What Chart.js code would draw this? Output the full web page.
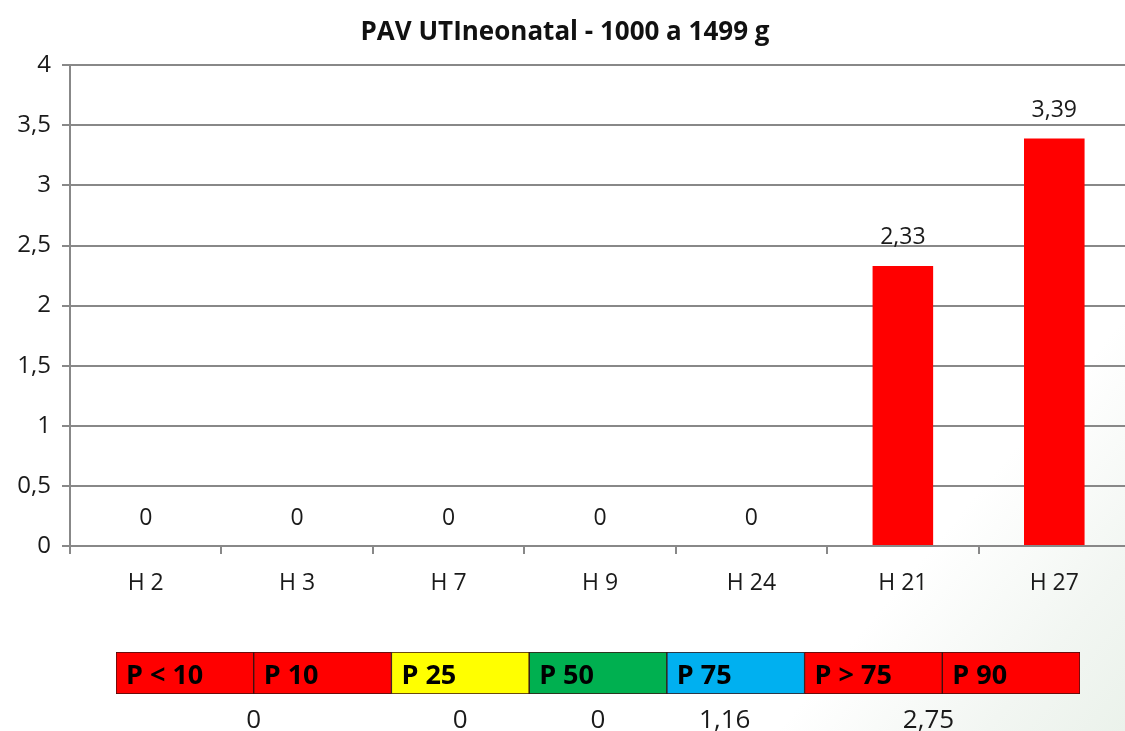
<!DOCTYPE html>
<html>
<head>
<meta charset="utf-8">
<script src="https://cdn.jsdelivr.net/npm/chart.js@4"></script>
<style>
  html, body { margin: 0; padding: 0; }
  body {
    width: 1125px; height: 731px; overflow: hidden; position: relative;
    background: linear-gradient(130deg, #ffffff 80%, #f2f6f2 92%, #ebf2eb 100%);
  }
  #wrapGrafico { position: absolute; left: 0; top: 0; width: 1130px; height: 610px; }
  #wrapFaixa { position: absolute; left: 0; top: 640px; width: 1125px; height: 91px; }
</style>
</head>
<body>
<div id="wrapGrafico"><canvas id="graficoPav"></canvas></div>
<div id="wrapFaixa"><canvas id="faixaPercentil"></canvas></div>
<script>
// datos del grafico
const categorias = ['H 2', 'H 3', 'H 7', 'H 9', 'H 24', 'H 21', 'H 27'];
const valores = [0, 0, 0, 0, 0, 2.33, 3.39];
const ticksY = [0, 0.5, 1, 1.5, 2, 2.5, 3, 3.5, 4];

// faixa de percentis
const percentis = ['P < 10', 'P 10', 'P 25', 'P 50', 'P 75', 'P > 75', 'P 90'];
const coresPercentis = ['#ff0000', '#ff0000', '#ffff00', '#00b050', '#00b0f0', '#ff0000', '#ff0000'];
const valoresPercentis = ['0', '0', '0', '1,16', '2,75'];
const posValoresPercentis = [1, 2.5, 3.5, 4.42, 5.9];

const fmt = v => String(v).replace('.', ',');
const fonteBase = "'Open Sans', 'Noto Sans', sans-serif";

const rotulosBarras = {
    id: 'rotulosBarras',
    afterDatasetsDraw(chart) {
        const ctx = chart.ctx;
        const meta = chart.getDatasetMeta(0);
        ctx.save();
        ctx.font = '23px ' + fonteBase;
        ctx.fillStyle = '#1a1a1a';
        ctx.textAlign = 'center';
        ctx.textBaseline = 'middle';
        meta.data.forEach((bar, i) => {
            ctx.fillText(fmt(valores[i]), bar.x, bar.y - 28);
        });
        ctx.restore();
    }
};

const ctx = document.getElementById('graficoPav').getContext('2d');
const graficoPav = new Chart(ctx, {
    type: 'bar',
    data: {
        labels: categorias,
        datasets: [{
            data: valores,
            backgroundColor: '#ff0000',
            borderWidth: 0,
            barPercentage: 0.4,
            categoryPercentage: 1
        }]
    },
    options: {
        responsive: true,
        maintainAspectRatio: false,
        animation: false,
        layout: { padding: 0 },
        scales: {
            y: {
                min: 0,
                max: 4,
                afterBuildTicks(scale) { scale.ticks = ticksY.map(v => ({ value: v })); },
                afterFit(scale) { scale.width = 70; },
                ticks: {
                    color: '#1a1a1a',
                    font: { size: 24, family: fonteBase },
                    padding: 11,
                    callback: v => fmt(v)
                },
                grid: { color: '#888888', lineWidth: 2, tickLength: 8 },
                border: { color: '#888888', width: 2 }
            },
            x: {
                afterFit(scale) { scale.height = 64; },
                ticks: {
                    color: '#1a1a1a',
                    font: { size: 23, family: fonteBase },
                    padding: 16
                },
                grid: { drawOnChartArea: false, color: '#888888', lineWidth: 2, tickLength: 8 },
                border: { color: '#888888', width: 2 }
            }
        },
        plugins: {
            legend: { display: false },
            tooltip: { enabled: false },
            title: {
                display: true,
                text: 'PAV UTIneonatal - 1000 a 1499 g',
                color: '#111',
                font: { size: 26, weight: 'bold', family: fonteBase },
                padding: { top: 17, bottom: 17 }
            }
        }
    },
    plugins: [rotulosBarras]
});

const textosFaixa = {
    id: 'textosFaixa',
    afterDatasetsDraw(chart) {
        const c = chart.ctx;
        const sx = chart.scales.x;
        const area = chart.chartArea;
        c.save();
        c.font = 'bold 27px ' + fonteBase;
        c.fillStyle = '#000';
        c.textAlign = 'left';
        c.textBaseline = 'middle';
        percentis.forEach((p, i) => {
            c.fillText(p, sx.getPixelForValue(i) + 10, (area.top + area.bottom) / 2 + 3);
        });
        c.font = '26px ' + fonteBase;
        c.fillStyle = '#1a1a1a';
        c.textAlign = 'center';
        valoresPercentis.forEach((v, i) => {
            c.fillText(v, sx.getPixelForValue(posValoresPercentis[i]), area.bottom + 27);
        });
        c.restore();
    }
};

const fx = document.getElementById('faixaPercentil').getContext('2d');
const faixaPercentil = new Chart(fx, {
    type: 'bar',
    data: {
        labels: ['faixa'],
        datasets: percentis.map((p, i) => ({
            label: p,
            data: [1],
            backgroundColor: coresPercentis[i],
            borderColor: '#3a1010',
            borderWidth: 1,
            borderSkipped: false,
            barPercentage: 1,
            categoryPercentage: 1
        }))
    },
    options: {
        indexAxis: 'y',
        responsive: true,
        maintainAspectRatio: false,
        animation: false,
        layout: { padding: { left: 116, right: 45, top: 12, bottom: 37 } },
        scales: {
            x: { stacked: true, min: 0, max: percentis.length, display: false },
            y: { stacked: true, display: false }
        },
        plugins: {
            legend: { display: false },
            tooltip: { enabled: false }
        }
    },
    plugins: [textosFaixa]
});
</script>
</body>
</html>
